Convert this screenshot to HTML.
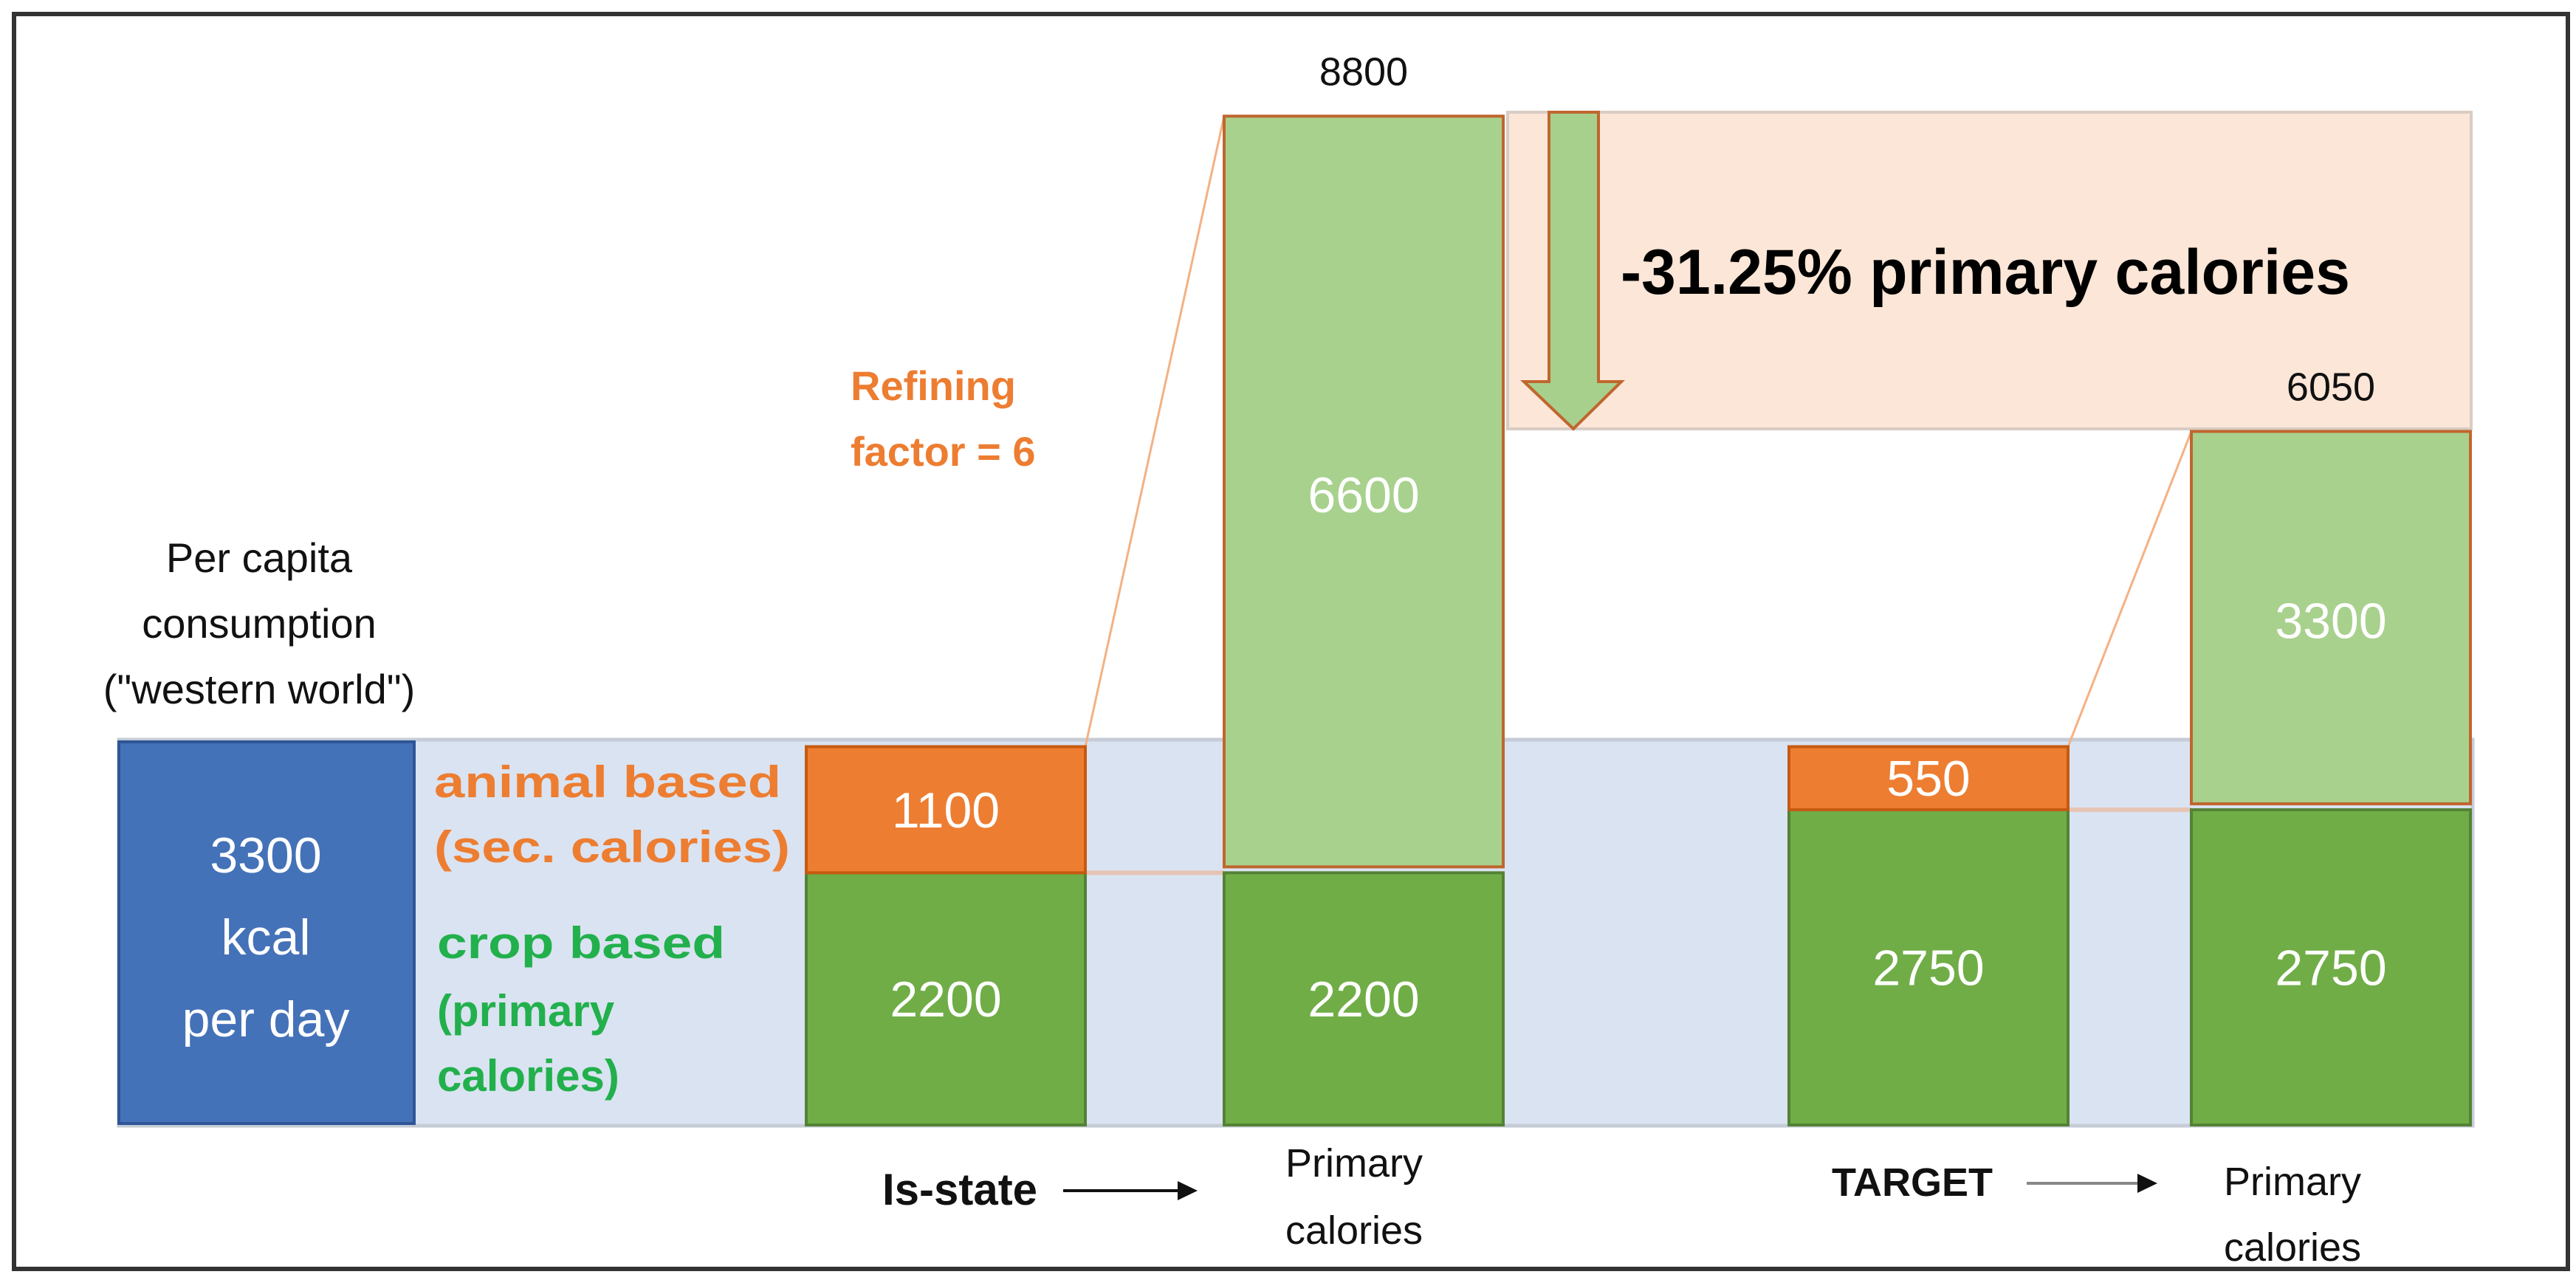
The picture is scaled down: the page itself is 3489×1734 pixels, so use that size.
<!DOCTYPE html>
<html><head><meta charset="utf-8"><style>
html,body{margin:0;padding:0;background:#fff}
svg{display:block}
text{font-family:"Liberation Sans",sans-serif}
</style></head><body>
<svg id="chart" width="3489" height="1734" viewBox="0 0 3489 1734">
<rect x="19" y="19" width="3459" height="1700" fill="#fff" stroke="#333" stroke-width="6"/>
<rect x="161" y="1002" width="3188" height="523" fill="#dae3f1" stroke="#c5ccd6" stroke-width="5"/>
<rect x="2042" y="152" width="1305" height="429" fill="#fbe6d7" stroke="#d8ccc4" stroke-width="4"/>
<g id="marks"></g>
<polygon points="2098,152 2165,152 2165,517 2196,517 2131,581 2064,517 2098,517" fill="#a8d08d" stroke="#c0662e" stroke-width="4"/>
<text x="2195" y="398" font-size="86" font-weight="bold" textLength="988" lengthAdjust="spacingAndGlyphs">-31.25% primary calories</text>
<rect x="161" y="1005" width="400" height="517" fill="#4472b8" stroke="#2f5597" stroke-width="4"/>
<g fill="#fff" font-size="68" text-anchor="middle">
<text x="360" y="1182">3300</text>
<text x="360" y="1293">kcal</text>
<text x="360" y="1404">per day</text>
</g>
<g font-size="56" text-anchor="middle" fill="#111">
<text x="351" y="775">Per capita</text>
<text x="351" y="864">consumption</text>
<text x="351" y="953">("western world")</text>
</g>
<g font-size="60" font-weight="bold">
<text x="588" y="1080" fill="#ed7d31" textLength="470" lengthAdjust="spacingAndGlyphs">animal based</text>
<text x="588" y="1168" fill="#ed7d31" textLength="482" lengthAdjust="spacingAndGlyphs">(sec. calories)</text>
<text x="592" y="1298" fill="#22b04c" textLength="390" lengthAdjust="spacingAndGlyphs">crop based</text>
<text x="592" y="1390" fill="#22b04c">(primary</text>
<text x="592" y="1478" fill="#22b04c">calories)</text>
<text x="1152" y="542" fill="#ed7d31" font-size="56">Refining</text>
<text x="1152" y="631" fill="#ed7d31" font-size="56">factor = 6</text>
</g>
<g font-size="54" fill="#111" text-anchor="middle">
<text x="1300" y="1632" font-weight="bold" font-size="60" text-anchor="middle">Is-state</text>
<text x="1834" y="1594">Primary</text>
<text x="1834" y="1685">calories</text>
<text x="2590" y="1620" font-weight="bold">TARGET</text>
<text x="3105" y="1619">Primary</text>
<text x="3105" y="1708">calories</text>
</g>
<line x1="1440" y1="1613" x2="1595" y2="1613" stroke="#111" stroke-width="4"/>
<polygon points="1595,1600 1622,1613 1595,1626" fill="#111"/>
<line x1="2745" y1="1603" x2="2895" y2="1603" stroke="#888" stroke-width="4"/>
<polygon points="2895,1590 2922,1603 2895,1616" fill="#111"/>
</svg>
<script>
const categories = ["Is-state", "Primary (Is)", "TARGET", "Primary (Target)"];
const cropValues = [2200, 2200, 2750, 2750];
const upperValues = [1100, 6600, 550, 3300];
const totalLabels = ["", "8800", "", "6050"];
const upperKind = ["animal", "primary", "animal", "primary"];

const svg = document.getElementById('marks');
const NS = 'http://www.w3.org/2000/svg';
const baseY = 1524, pxPerUnit = 0.1553;
function yScale(v){ return baseY - v * pxPerUnit; }
const xLeft = [1092, 1658, 2423, 2968], barW = 378;
function xScale(i){ return xLeft[i]; }

function mk(tag, attrs){ const e = document.createElementNS(NS, tag); for (const k in attrs) e.setAttribute(k, attrs[k]); svg.appendChild(e); return e; }

// connectors
for (let i = 0; i < categories.length; i += 2) {
  const topA = yScale(cropValues[i] + upperValues[i]);
  const midA = yScale(cropValues[i]);
  const topB = yScale(cropValues[i+1] + upperValues[i+1]);
  const l = mk('line', {x1: xScale(i)+barW, y1: topA, x2: xScale(i+1), y2: topB, stroke: '#f4b183', 'stroke-width': 3});
  
  
  const h = mk('line', {x1: xScale(i)+barW, y1: midA, x2: xScale(i+1), y2: midA, stroke: '#e6c4b4', 'stroke-width': 6});
  
  
}

categories.forEach((c, i) => {
  const x = xScale(i);
  const yc = yScale(cropValues[i]);
  const crop = mk('rect', {x: x, y: yc, width: barW, height: baseY - yc, fill: '#70ad47', stroke: '#548235', 'stroke-width': 4});
  
  
  const yu = yScale(cropValues[i] + upperValues[i]);
  const isAnimal = upperKind[i] === 'animal';
  const up = mk('rect', {x: x, y: yu, width: barW, height: yc - yu - (isAnimal ? 0 : 8), fill: isAnimal ? '#ed7d31' : '#a9d18e', stroke: isAnimal ? '#c55a11' : '#c0662e', 'stroke-width': 4});
  
  
  const t1 = mk('text', {x: x + barW/2, y: (yc + baseY)/2 + 24, 'text-anchor': 'middle', fill: '#fff', 'font-size': 68});
  t1.textContent = cropValues[i];
  
  
  const t2 = mk('text', {x: x + barW/2, y: (yu + yc)/2 + 24, 'text-anchor': 'middle', fill: '#fff', 'font-size': 68});
  t2.textContent = upperValues[i];
  
  
  if (totalLabels[i]) {
    const t3 = mk('text', {x: x + barW/2, y: yu - 42, 'text-anchor': 'middle', fill: '#111', 'font-size': 54});
    t3.textContent = totalLabels[i];
    
    
  }
});
</script>
</body></html>
